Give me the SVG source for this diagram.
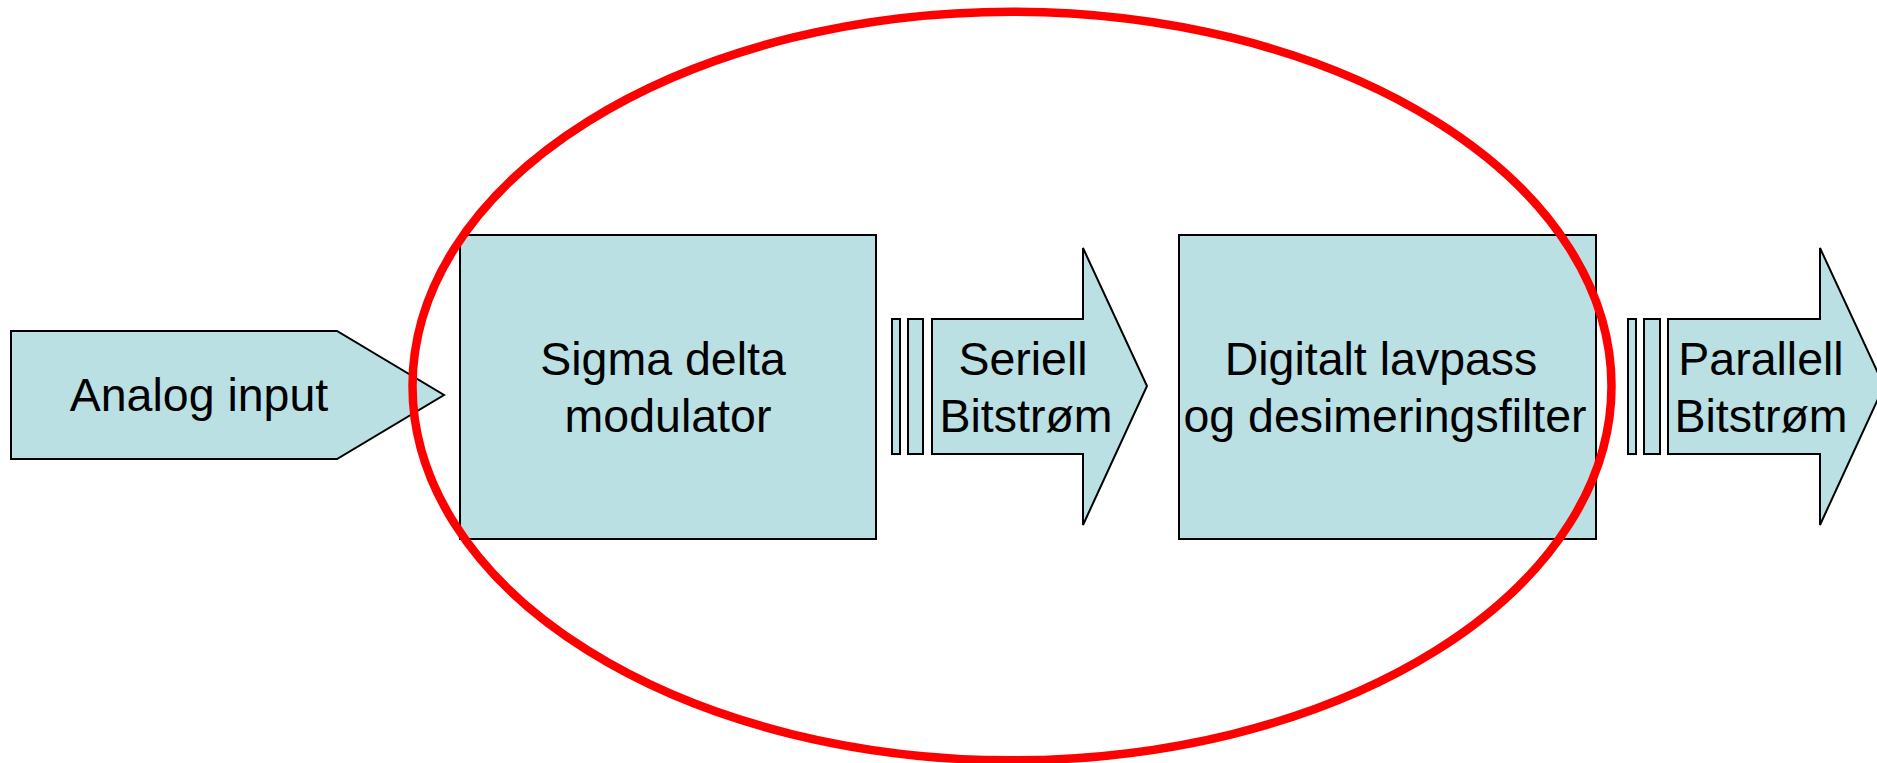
<svg xmlns="http://www.w3.org/2000/svg" width="1877" height="763" viewBox="0 0 1877 763">
<style>
.sh{fill:#BAE0E3;stroke:#000;stroke-width:2;stroke-linejoin:miter}
.t{font-family:"Liberation Sans",Arial,sans-serif;font-size:46.5px;fill:#000;text-anchor:middle}
</style>
<rect width="1877" height="763" fill="#fff"/>
<g id="analog-input">
<polygon class="sh" points="11,331 337,331 444,395 337,459 11,459"/>
<text class="t" x="199" y="411">Analog input</text>
</g>
<g id="sigma-delta">
<rect class="sh" x="460" y="235" width="416" height="304"/>
<text class="t" x="663" y="375">Sigma delta</text>
<text class="t" x="668" y="432">modulator</text>
</g>
<g id="seriell">
<rect class="sh" x="892" y="319" width="8" height="135"/>
<rect class="sh" x="908" y="319" width="15" height="135"/>
<polygon class="sh" points="932,319 1083,319 1083,248 1147,386 1083,525 1083,454 932,454"/>
<text class="t" x="1023" y="375">Seriell</text>
<text class="t" x="1026" y="432">Bitstrøm</text>
</g>
<g id="digitalt">
<rect class="sh" x="1179" y="235" width="417" height="304"/>
<text class="t" x="1381" y="375">Digitalt lavpass</text>
<text class="t" x="1385" y="432">og desimeringsfilter</text>
</g>
<g id="parallell">
<rect class="sh" x="1628" y="319" width="8" height="135"/>
<rect class="sh" x="1644" y="319" width="16" height="135"/>
<polygon class="sh" points="1668,319 1820,319 1820,248 1884,386 1820,525 1820,454 1668,454"/>
<text class="t" x="1761" y="375">Parallell</text>
<text class="t" x="1761" y="432">Bitstrøm</text>
</g>
<g id="connectors"></g>
<g id="highlight">
<ellipse cx="1012" cy="386" rx="599.5" ry="374.3" fill="none" stroke="#FF0000" stroke-width="8.5"/>
</g>
</svg>
